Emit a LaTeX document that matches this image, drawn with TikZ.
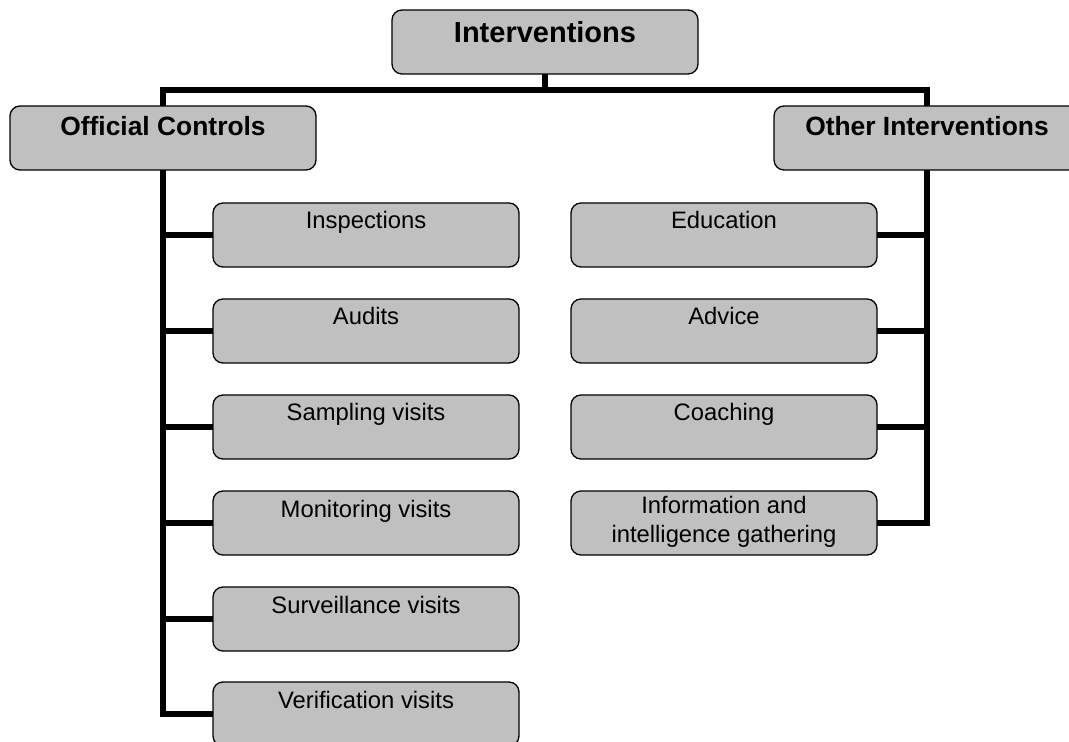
\documentclass[tikz,border=0pt]{standalone}
\usepackage{fontspec}
\setmainfont{Liberation Sans}
\definecolor{boxgray}{HTML}{C0C0C0}
\definecolor{ink}{HTML}{000000}

\begin{document}
\begin{tikzpicture}[
  x=0.5pt,
  y=-0.5pt,
  box/.style={draw=ink,line width=.65pt,rounded corners=5pt,fill=boxgray,
    anchor=north west,inner sep=0pt,outer sep=0pt,align=center,
    minimum width=153pt,minimum height=32pt},
  headbox/.style={box,font=\fontsize{14.5}{17}\selectfont\bfseries,
    text height=16.5pt,text depth=15.5pt},
  groupbox/.style={box,font=\fontsize{13.2}{16}\selectfont\bfseries,
    text height=15pt,text depth=17pt},
  itembox/.style={box,font=\fontsize{11.9}{14.5}\selectfont,
    text height=13pt,text depth=19pt},
  twolinebox/.style={itembox,text height=25.5pt,text depth=6.5pt},
  link/.style={draw=ink,line width=3pt}
]
\useasboundingbox (0,0) rectangle (1069,742);

% top of the tree
\node[headbox] (top) at (392,10) {Interventions};
\node[groupbox] (offctl) at (10,106) {Official Controls};
\node[groupbox] (othint) at (774,106) {Other Interventions};

% official controls
\node[itembox] (insp) at (213,203) {Inspections};
\node[itembox] (audit) at (213,299) {Audits};
\node[itembox] (sampl) at (213,395) {Sampling visits};
\node[itembox] (monit) at (213,491) {Monitoring visits};
\node[itembox] (surv) at (213,587) {Surveillance visits};
\node[itembox] (verif) at (213,682) {Verification visits};

% other interventions
\node[itembox] (educ) at (571,203) {Education};
\node[itembox] (advice) at (571,299) {Advice};
\node[itembox] (coach) at (571,395) {Coaching};
\node[twolinebox] (info) at (571,491) {Information and\\intelligence gathering};

% connectors
\draw[link] (top.south) -- ++(0,16) coordinate (bus);
\draw[link] (offctl.north) |- (bus) -| (othint.north);

\draw[link] (offctl.south) |- (verif.west);
\draw[link] (insp.west) -- (insp.west -| offctl.south);
\draw[link] (audit.west) -- (audit.west -| offctl.south);
\draw[link] (sampl.west) -- (sampl.west -| offctl.south);
\draw[link] (monit.west) -- (monit.west -| offctl.south);
\draw[link] (surv.west) -- (surv.west -| offctl.south);

\draw[link] (othint.south) |- (info.east);
\draw[link] (educ.east) -- (educ.east -| othint.south);
\draw[link] (advice.east) -- (advice.east -| othint.south);
\draw[link] (coach.east) -- (coach.east -| othint.south);
\end{tikzpicture}
\end{document}
